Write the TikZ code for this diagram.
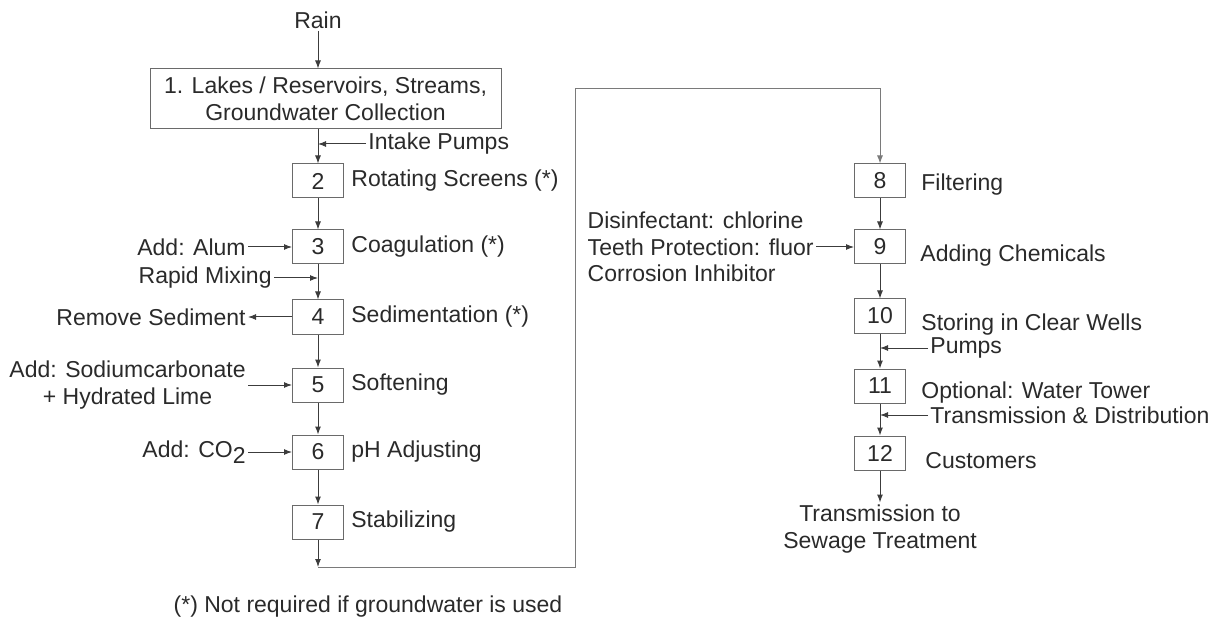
\documentclass[tikz,border=0pt]{standalone}
\usepackage{fontspec}
\setmainfont{Liberation Sans}
\usetikzlibrary{positioning, arrows.meta}
\definecolor{lineMain}{HTML}{3C3C3C}
\definecolor{lineLight}{HTML}{7A7A7A}
\definecolor{borderBox}{HTML}{6A6A6A}
\definecolor{textMain}{HTML}{2A2A2A}
\tikzset{
  stepbox/.style={
    draw=borderBox, minimum width=25.5pt, minimum height=17pt, inner sep=1pt,
    font=\fontsize{11.5}{13.3}\selectfont, text=textMain, line width=0.5pt,
  },
  bigbox/.style={
    draw=borderBox, minimum width=175.5pt, minimum height=30pt, inner sep=1pt,
    font=\fontsize{11.5}{13.3}\selectfont, text=textMain, line width=0.5pt, align=center,
  },
  stepname/.style={
    font=\fontsize{11.5}{13.3}\selectfont, text=textMain, inner sep=1pt,
  },
  sidenote/.style={
    font=\fontsize{11.5}{13.3}\selectfont, text=textMain, inner sep=1pt,
  },
  flow/.style={
    -{Latex[length=4pt, width=3pt]}, line width=0.5pt, color=lineMain,
  },
}

\begin{document}
\begin{tikzpicture}[x=0.5pt, y=-0.5pt]

  \useasboundingbox (0,0) rectangle (1226,620);

  % === Source ===
  \node[sidenote] (rain) at (318,20) {Rain};
  \node[bigbox] (lakes) at (325.5,99) {1. Lakes / Reservoirs, Streams,\\Groundwater Collection};

  % === Left column: steps 2-7 ===
  \node[stepbox] (s2) at (318,181) {2};
  \node[stepbox, below=15.5pt of s2] (s3) {3};
  \node[stepbox, below=17.5pt of s3] (s4) {4};
  \node[stepbox, below=16.5pt of s4] (s5) {5};
  \node[stepbox, below=16pt of s5] (s6) {6};
  \node[stepbox, below=17.5pt of s6] (s7) {7};

  \node[stepname, right=2.5pt of s2] (n2) {Rotating Screens (*)};
  \node[stepname, right=2.5pt of s3] (n3) {Coagulation (*)};
  \node[stepname, right=2.5pt of s4] (n4) {Sedimentation (*)};
  \node[stepname, right=2.5pt of s5] (n5) {Softening};
  \node[stepname, right=2.5pt of s6] (n6) {pH Adjusting};
  \node[stepname, right=2.5pt of s7] (n7) {Stabilizing};

  % === Left side inputs ===
  \node[sidenote, anchor=west] (intake) at (366,144) {Intake Pumps};
  \node[sidenote, left=22pt of s3] (alum) {Add: Alum};
  \node[sidenote, anchor=east] (mixing) at (274,278) {Rapid Mixing};
  \node[sidenote, left=22pt of s4] (sediment) {Remove Sediment};
  \node[sidenote, left=22pt of s5, align=center] (soda) {Add: Sodiumcarbonate\\+ Hydrated Lime};
  \node[sidenote, left=22pt of s6] (co2) {Add: CO\raisebox{-0.5ex}{2}};

  % === Right column: steps 8-12 ===
  \node[stepbox] (s8) at (880,181) {8};
  \node[stepbox, below=15.5pt of s8] (s9) {9};
  \node[stepbox, below=17pt of s9] (s10) {10};
  \node[stepbox, below=17.5pt of s10] (s11) {11};
  \node[stepbox, below=16pt of s11] (s12) {12};

  \node[stepname, right=6.5pt of s8, yshift=-2pt] (n8) {Filtering};
  \node[stepname, right=6pt of s9, yshift=-4.5pt] (n9) {Adding Chemicals};
  \node[stepname, right=6.5pt of s10, yshift=-4.5pt] (n10) {Storing in Clear Wells};
  \node[stepname, right=6.5pt of s11, yshift=-3.5pt] (n11) {Optional: Water Tower};
  \node[stepname, right=8.5pt of s12, yshift=-4pt] (n12) {Customers};

  % === Right side inputs ===
  \node[sidenote, left=19pt of s9, align=left] (chem) {Disinfectant: chlorine\\Teeth Protection: fluor\\Corrosion Inhibitor};
  \node[sidenote, anchor=west] (pumps) at (928,348) {Pumps};
  \node[sidenote, anchor=west] (transdist) at (928,415) {Transmission \& Distribution};
  \node[sidenote, below=16pt of s12, align=center] (sewage) {Transmission to\\Sewage Treatment};

  % === Footnote ===
  \node[sidenote] (note) at (368,607) {(*) Not required if groundwater is used};

  % === Arrows ===
  \draw[flow] (rain) -- (rain |- lakes.north);
  \draw[flow] (s2 |- lakes.south) -- (s2);
  \draw[flow] (intake) -- (intake -| s2);
  \draw[flow] (s2) -- (s3);
  \draw[flow] (alum) -- (s3);
  \draw[flow] (s3) -- (s4);
  \draw[flow] (mixing) -- (mixing -| s3);
  \draw[flow] (s4) -- (sediment);
  \draw[flow] (s4) -- (s5);
  \draw[flow] (soda) -- (s5);
  \draw[flow] (s5) -- (s6);
  \draw[flow] (s6.west -| co2.east) -- (s6.west);
  \draw[flow] (s6) -- (s7);

  % Loop from step 7 over to step 8
  \coordinate (low) at (318,567);
  \coordinate (rise) at (575,567);
  \coordinate (high) at (880,89);
  \draw[flow] (s7) -- (low);
  \draw[flow, color=lineLight] (low) -- (rise) |- (high) -- (s8);

  \draw[flow] (s8) -- (s9);
  \draw[flow] (chem) -- (s9);
  \draw[flow] (s9) -- (s10);
  \draw[flow] (s10) -- (s11);
  \draw[flow] (pumps) -- (pumps -| s10);
  \draw[flow] (s11) -- (s12);
  \draw[flow] (transdist) -- (transdist -| s11);
  \draw[flow] (s12) -- (sewage);

\end{tikzpicture}
\end{document}
